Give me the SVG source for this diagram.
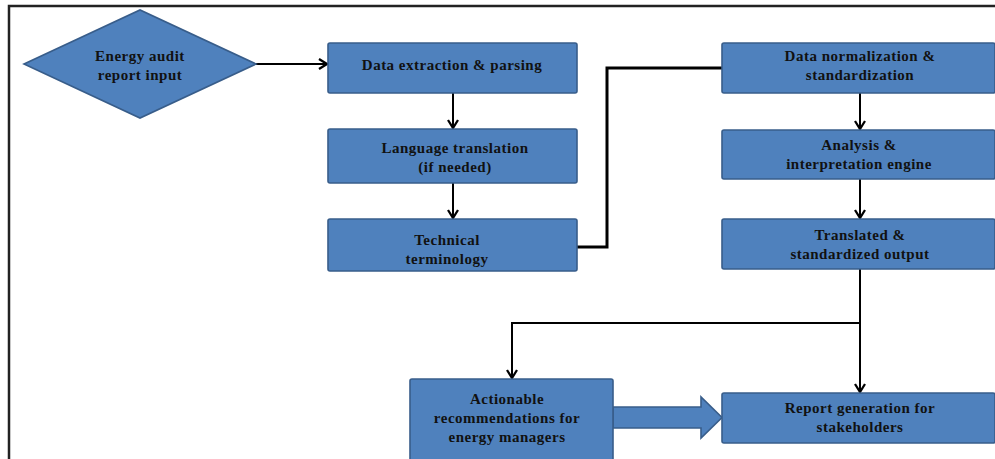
<svg xmlns="http://www.w3.org/2000/svg" width="995" height="459" viewBox="0 0 995 459">
<style>
.box{fill:#4F81BD;stroke:#385D8A;stroke-width:1.6}
.t{font-family:"Liberation Serif","Times New Roman",serif;font-weight:bold;font-size:15px;fill:#111;text-anchor:middle;letter-spacing:0.5px}
.c{fill:none;stroke:#000;stroke-width:2}
</style>
<defs>
<marker id="chev" viewBox="0 0 10 12" refX="9" refY="6" markerWidth="10" markerHeight="12" markerUnits="userSpaceOnUse" orient="auto">
<path d="M1,1 L9,6 L1,11" fill="none" stroke="#000" stroke-width="2.3"/>
</marker>
</defs>
<rect x="0" y="0" width="995" height="459" fill="#fff"/>
<path d="M9,459 V6 H995" fill="none" stroke="#222" stroke-width="2.5"/>
<g id="connectors">
<path class="c" d="M256,64 H327" marker-end="url(#chev)"/>
<path class="c" d="M453,93 V128" marker-end="url(#chev)"/>
<path class="c" d="M453,183 V218" marker-end="url(#chev)"/>
<path fill="none" stroke="#000" stroke-width="3" d="M577,247 H607 V68 H722"/>
<path class="c" d="M860,93 V129" marker-end="url(#chev)"/>
<path class="c" d="M860,179 V218" marker-end="url(#chev)"/>
<path class="c" d="M860,269 V392" marker-end="url(#chev)"/>
<path class="c" d="M860,323 H512 V378" marker-end="url(#chev)"/>
<path id="blockarrow" class="box" d="M613,407 H701 V397 L722,417.5 L701,438 V428 H613 Z"/>
</g>
<g id="n-input">
<polygon class="box" points="24,64 140,10 256,64 140,118"/>
<text class="t" x="140" y="61">Energy audit</text>
<text class="t" x="140" y="80">report input</text>
</g>
<g id="n-extract">
<rect class="box" x="328" y="43" width="249" height="50" rx="2"/>
<text class="t" x="452" y="70">Data extraction &amp; parsing</text>
</g>
<g id="n-translate">
<rect class="box" x="328" y="129" width="249" height="54" rx="2"/>
<text class="t" x="455" y="153">Language translation</text>
<text class="t" x="455" y="172">(if needed)</text>
</g>
<g id="n-terminology">
<rect class="box" x="328" y="219" width="249" height="52" rx="2"/>
<text class="t" x="447" y="245">Technical</text>
<text class="t" x="447" y="264">terminology</text>
</g>
<g id="n-normalize">
<rect class="box" x="722" y="43" width="273" height="50" rx="2"/>
<text class="t" x="860" y="61">Data normalization &amp;</text>
<text class="t" x="860" y="80">standardization</text>
</g>
<g id="n-analysis">
<rect class="box" x="722" y="130" width="273" height="49" rx="2"/>
<text class="t" x="859" y="150">Analysis &amp;</text>
<text class="t" x="859" y="169">interpretation engine</text>
</g>
<g id="n-output">
<rect class="box" x="722" y="219" width="273" height="50" rx="2"/>
<text class="t" x="860" y="240">Translated &amp;</text>
<text class="t" x="860" y="259">standardized output</text>
</g>
<g id="n-actionable">
<rect class="box" x="410" y="379" width="203" height="85" rx="2"/>
<text class="t" x="507" y="404">Actionable</text>
<text class="t" x="507" y="423">recommendations for</text>
<text class="t" x="507" y="442">energy managers</text>
</g>
<g id="n-report">
<rect class="box" x="722" y="393" width="273" height="50" rx="2"/>
<text class="t" x="860" y="413">Report generation for</text>
<text class="t" x="860" y="432">stakeholders</text>
</g>
</svg>
